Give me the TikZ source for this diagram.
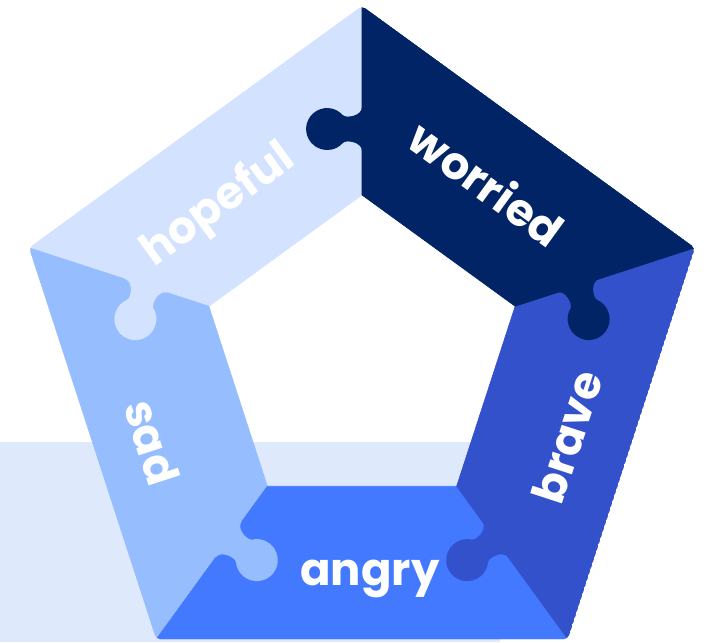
\documentclass[tikz,border=0pt]{standalone}
\usepackage{fontspec}
\setmainfont{Poppins}
\usetikzlibrary{calc}
\definecolor{cHope}{HTML}{D3E2FE}
\definecolor{cSad}{HTML}{96BEFF}
\definecolor{cAngry}{HTML}{4379FF}
\definecolor{cBrave}{HTML}{3451CC}
\definecolor{cWorry}{HTML}{012467}
\definecolor{cBg}{HTML}{DFE9FC}
\newcommand{\pzknob}[4]{%
  \begin{scope}[shift={(O#1)}, rotate=#2+180, yscale=#3]
    \fill[#4] (101,-2) -- (101,0) .. controls (110,0) and (112.7,16) .. (109,19.3)
      arc[start angle=228, end angle=-48, radius=21]
      .. controls (133.3,16) and (136,0) .. (145,0) -- (145,-2) -- cycle;
  \end{scope}}
\begin{document}
\begin{tikzpicture}[x=1pt,y=1pt,
  word/.style={text=white, font=\bfseries\fontsize{45}{45}\selectfont, inner sep=0pt},
  piece/.style={fill=#1, draw=#1, line width=0.6pt}]
\useasboundingbox (0,0) rectangle (708,642);
\fill[cBg] (0,0) rectangle (500,200);
\coordinate (C) at (362,286);
\foreach \k/\a in {0/90,1/162,2/234,3/306,4/378} {
  \coordinate (O\k) at ($(C)+(\a:350)$);
  \coordinate (I\k) at ($(C)+(\a:161)$);
}
\begin{scope}
\clip[rounded corners=4pt] (O0) -- (O1) -- (O2) -- (O3) -- (O4) -- cycle;
\path[piece=cHope]  (O0) -- (O1) -- (I1) -- (I0) -- cycle;
\path[piece=cSad]   (O1) -- (O2) -- (I2) -- (I1) -- cycle;
\path[piece=cAngry] (O2) -- (O3) -- (I3) -- (I2) -- cycle;
\path[piece=cBrave] (O3) -- (O4) -- (I4) -- (I3) -- cycle;
\path[piece=cWorry] (O4) -- (O0) -- (I0) -- (I4) -- cycle;
\pzknob{0}{90}{-1}{cWorry}
\pzknob{1}{162}{-1}{cHope}
\pzknob{2}{234}{-1}{cSad}
\pzknob{3}{306}{1}{cBrave}
\pzknob{4}{378}{1}{cWorry}
\end{scope}
\node[word, rotate=36] (hopeful) at (219,436) {hopeful};
\node[word, rotate=-36] (worried) at (487,459) {worried};
\node[word, rotate=72] (brave) at (567,205) {brave};
\node[word, rotate=-72] (sad) at (152,200) {sad};
\node[word, anchor=base] (angry) at (370,57) {angry};
\end{tikzpicture}
\end{document}
